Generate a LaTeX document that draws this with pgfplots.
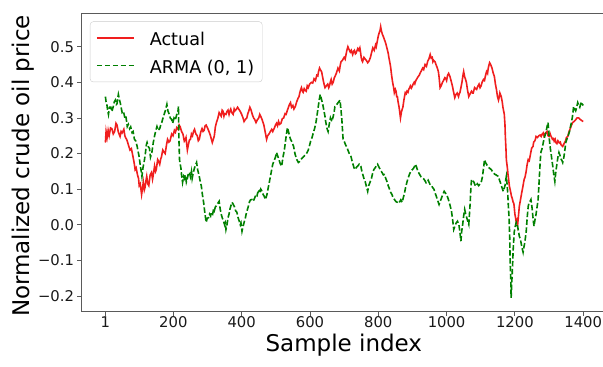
\documentclass[border=0pt]{standalone}
\usepackage{fontspec}
\setmainfont{DejaVu Sans}
\usepackage{pgfplots}
\pgfplotsset{compat=1.18}
\definecolor{mplred}{RGB}{240,30,30}
\definecolor{mplgreen}{RGB}{0,128,0}
\definecolor{spine}{RGB}{90,90,90}
\newcommand{\lgstrut}{\rule{0pt}{19.3pt}}
\begin{document}
\begin{tikzpicture}
\begin{axis}[
 scale only axis, width=521.5pt, height=298.7pt,
 xmin=-69, xmax=1458, ymin=-0.244, ymax=0.5947,
 axis x line*=bottom, axis y line*=left,
 axis line style={-, spine, line width=0.8pt},
 clip mode=individual,
 xtick={1,200,400,600,800,1000,1200,1400},
 xticklabels={1,200,400,600,800,1000,1200,1400},
 ytick={-0.2,-0.1,0,0.1,0.2,0.3,0.4,0.5},
 yticklabels={−0.2,−0.1,0.0,0.1,0.2,0.3,0.4,0.5},
 tick align=outside, major tick length=4pt, minor tick num=0,
 tick style={spine, line width=0.8pt},
 ticklabel style={font=\fontsize{14.8}{17}\selectfont, text=black!90},
 xticklabel style={yshift=2.5pt},
 xlabel={Sample index}, ylabel={Normalized crude oil price},
 label style={font=\fontsize{23}{27}\selectfont},
 xlabel style={at={(axis description cs:0.503,0)}, anchor=base, yshift=-40pt},
 ylabel style={at={(axis description cs:-0.112,0.488)}, anchor=center},
 legend cell align=left,
 legend style={at={(axis description cs:0,1)}, anchor=north west, xshift=8.5pt, yshift=-8.5pt,
   draw=black!20, rounded corners=3pt, fill=white, fill opacity=0.8, text opacity=1,
   font=\fontsize{17.6}{21}\selectfont, inner xsep=6pt, inner ysep=2.7pt, row sep=0pt, column sep=13pt,
   nodes={inner sep=2pt, text depth=4.1pt}},
 legend image code/.code={\draw[#1] (0pt,0pt) -- (37pt,0pt);},
]
\addplot[mplred, line width=1.6pt] coordinates {
(1,0.231)(3,0.262)(6,0.245)(9,0.265)(12,0.25)(16,0.272)(20,0.27)(24,0.255)(28,0.262)(32,0.285)(35,0.28)(39,0.26)(44,0.248)(47,0.262)(50,0.258)(55,0.268)(58,0.25)(60,0.245)(63,0.24)(65,0.235)(69,0.222)(73,0.21)(77,0.214)(80,0.2)(83,0.185)(85,0.175)(88,0.155)(91,0.16)(95,0.14)(98,0.13)(100,0.11)(103,0.115)(107,0.085)(110,0.105)(112,0.12)(115,0.098)(117,0.105)(120,0.125)(122,0.136)(125,0.115)(128,0.11)(132,0.14)(136,0.147)(139,0.128)(142,0.145)(145,0.165)(148,0.15)(150,0.155)(154,0.183)(157,0.178)(160,0.17)(163,0.185)(165,0.19)(169,0.21)(172,0.205)(176,0.2)(180,0.225)(183,0.24)(187,0.232)(190,0.235)(195,0.255)(199,0.25)(203,0.265)(206,0.26)(210,0.273)(214,0.268)(217,0.28)(220,0.275)(224,0.262)(228,0.255)(232,0.235)(235,0.24)(237,0.245)(241,0.21)(244,0.225)(247,0.238)(250,0.24)(253,0.255)(256,0.25)(259,0.262)(262,0.268)(266,0.255)(270,0.25)(273,0.236)(276,0.24)(280,0.26)(284,0.27)(287,0.262)(290,0.265)(293,0.278)(296,0.28)(300,0.272)(305,0.26)(308,0.252)(310,0.245)(314,0.231)(317,0.24)(320,0.25)(323,0.275)(327,0.29)(330,0.298)(334,0.315)(337,0.31)(340,0.305)(343,0.322)(345,0.32)(348,0.305)(350,0.312)(354,0.31)(357,0.318)(360,0.322)(363,0.31)(365,0.318)(368,0.325)(371,0.315)(375,0.31)(378,0.325)(380,0.32)(385,0.325)(388,0.33)(392,0.324)(396,0.318)(400,0.31)(404,0.3)(407,0.29)(411,0.296)(415,0.3)(418,0.312)(421,0.32)(424,0.33)(427,0.324)(431,0.31)(435,0.3)(438,0.296)(442,0.287)(446,0.295)(450,0.3)(453,0.31)(456,0.304)(460,0.295)(465,0.28)(469,0.26)(473,0.24)(476,0.25)(480,0.255)(484,0.262)(488,0.268)(491,0.262)(495,0.27)(499,0.28)(502,0.285)(505,0.278)(508,0.29)(511,0.282)(515,0.285)(519,0.298)(523,0.3)(527,0.312)(530,0.31)(534,0.322)(537,0.33)(540,0.338)(543,0.343)(546,0.33)(550,0.335)(553,0.325)(557,0.332)(561,0.345)(565,0.355)(568,0.36)(570,0.37)(573,0.38)(575,0.385)(578,0.375)(580,0.372)(583,0.382)(585,0.378)(589,0.375)(592,0.39)(595,0.385)(599,0.395)(604,0.4)(608,0.398)(612,0.41)(616,0.405)(620,0.42)(623,0.418)(625,0.43)(628,0.44)(630,0.436)(634,0.43)(637,0.415)(640,0.4)(644,0.385)(648,0.39)(652,0.395)(655,0.385)(657,0.39)(660,0.402)(662,0.408)(665,0.395)(668,0.4)(671,0.412)(673,0.416)(677,0.425)(682,0.44)(686,0.432)(689,0.45)(691,0.458)(695,0.462)(700,0.47)(703,0.465)(705,0.475)(708,0.49)(711,0.5)(714,0.493)(718,0.485)(721,0.49)(725,0.478)(728,0.488)(730,0.49)(733,0.48)(735,0.482)(738,0.49)(740,0.495)(743,0.49)(746,0.497)(748,0.485)(750,0.47)(752,0.462)(754,0.458)(758,0.47)(762,0.465)(765,0.462)(769,0.455)(773,0.46)(777,0.47)(780,0.482)(784,0.497)(788,0.49)(792,0.505)(794,0.5)(796,0.51)(798,0.52)(800,0.53)(803,0.54)(805,0.545)(807,0.556)(809,0.545)(812,0.535)(815,0.528)(818,0.52)(821,0.512)(823,0.505)(827,0.49)(829,0.482)(831,0.47)(834,0.455)(836,0.444)(839,0.42)(842,0.4)(845,0.385)(847,0.371)(850,0.38)(852,0.375)(854,0.36)(856,0.36)(858,0.345)(861,0.33)(863,0.315)(865,0.3)(868,0.318)(872,0.33)(875,0.35)(879,0.371)(882,0.368)(884,0.375)(887,0.372)(889,0.38)(892,0.385)(894,0.39)(897,0.384)(899,0.388)(902,0.395)(905,0.4)(907,0.396)(910,0.405)(913,0.41)(916,0.415)(920,0.42)(923,0.427)(926,0.432)(930,0.44)(933,0.436)(937,0.45)(941,0.445)(945,0.46)(948,0.465)(952,0.478)(955,0.468)(958,0.47)(960,0.458)(962,0.462)(966,0.458)(969,0.45)(973,0.44)(976,0.43)(978,0.415)(980,0.395)(981,0.385)(984,0.39)(988,0.4)(991,0.405)(995,0.413)(998,0.41)(1000,0.405)(1003,0.42)(1006,0.425)(1010,0.416)(1013,0.405)(1017,0.39)(1020,0.375)(1024,0.357)(1027,0.365)(1031,0.37)(1033,0.365)(1035,0.36)(1037,0.368)(1039,0.371)(1042,0.385)(1045,0.4)(1048,0.42)(1050,0.43)(1053,0.415)(1055,0.41)(1058,0.4)(1061,0.38)(1065,0.36)(1069,0.368)(1073,0.375)(1076,0.37)(1078,0.37)(1080,0.378)(1082,0.385)(1085,0.382)(1088,0.38)(1091,0.388)(1095,0.395)(1098,0.385)(1101,0.39)(1104,0.4)(1108,0.408)(1111,0.405)(1113,0.415)(1117,0.43)(1120,0.425)(1122,0.44)(1124,0.448)(1126,0.455)(1129,0.45)(1133,0.44)(1136,0.428)(1140,0.416)(1143,0.395)(1146,0.38)(1149,0.36)(1152,0.35)(1154,0.358)(1156,0.37)(1158,0.365)(1160,0.36)(1163,0.345)(1165,0.33)(1167,0.32)(1169,0.31)(1171,0.28)(1172,0.25)(1174,0.21)(1175,0.183)(1178,0.16)(1180,0.14)(1182,0.125)(1184,0.108)(1187,0.095)(1190,0.08)(1192,0.075)(1195,0.063)(1197,0.06)(1200,0.03)(1202,0.02)(1204,0.007)(1206,0.012)(1208,0.0)(1210,0.02)(1213,0.052)(1216,0.068)(1220,0.09)(1223,0.105)(1227,0.127)(1230,0.135)(1233,0.15)(1236,0.17)(1239,0.183)(1242,0.18)(1246,0.2)(1249,0.215)(1253,0.22)(1255,0.232)(1258,0.235)(1260,0.24)(1262,0.248)(1266,0.245)(1270,0.25)(1274,0.252)(1277,0.248)(1280,0.255)(1283,0.258)(1285,0.25)(1288,0.255)(1291,0.259)(1294,0.262)(1297,0.25)(1300,0.248)(1303,0.256)(1305,0.25)(1308,0.245)(1310,0.24)(1313,0.242)(1315,0.235)(1318,0.24)(1320,0.231)(1323,0.228)(1326,0.236)(1330,0.23)(1333,0.232)(1335,0.225)(1338,0.222)(1340,0.22)(1344,0.228)(1348,0.235)(1351,0.245)(1355,0.248)(1358,0.26)(1362,0.27)(1365,0.278)(1369,0.287)(1373,0.29)(1378,0.295)(1382,0.3)(1387,0.3)(1391,0.296)(1395,0.293)(1400,0.29)
};
\addlegendentry{\lgstrut Actual}
\addplot[mplgreen, line width=1.6pt, dash pattern=on 5.5pt off 2.4pt] coordinates {
(1,0.36)(3,0.345)(5,0.34)(7,0.325)(10,0.31)(13,0.33)(17,0.33)(20,0.318)(24,0.332)(27,0.345)(30,0.35)(33,0.338)(35,0.34)(37,0.355)(39,0.366)(42,0.352)(45,0.34)(48,0.325)(50,0.315)(54,0.318)(58,0.3)(61,0.305)(65,0.276)(68,0.282)(72,0.27)(75,0.275)(79,0.259)(82,0.262)(86,0.24)(90,0.235)(94,0.22)(97,0.205)(100,0.19)(102,0.175)(104,0.16)(106,0.15)(108,0.136)(111,0.16)(115,0.18)(118,0.2)(121,0.225)(123,0.231)(126,0.22)(130,0.215)(133,0.19)(137,0.203)(141,0.23)(145,0.25)(148,0.262)(152,0.276)(156,0.265)(160,0.27)(163,0.28)(166,0.287)(169,0.298)(173,0.31)(177,0.322)(181,0.338)(184,0.32)(188,0.31)(191,0.3)(195,0.296)(198,0.285)(202,0.3)(206,0.295)(210,0.31)(213,0.315)(215,0.332)(216,0.25)(218,0.183)(220,0.17)(222,0.16)(224,0.14)(227,0.119)(230,0.135)(232,0.13)(235,0.14)(238,0.12)(241,0.13)(244,0.145)(247,0.147)(250,0.135)(253,0.15)(255,0.13)(258,0.145)(262,0.16)(265,0.168)(268,0.175)(271,0.155)(275,0.14)(278,0.125)(282,0.108)(285,0.085)(289,0.06)(292,0.035)(296,0.007)(299,0.018)(303,0.02)(306,0.03)(309,0.025)(311,0.035)(315,0.03)(318,0.045)(320,0.04)(323,0.05)(327,0.055)(330,0.06)(334,0.066)(337,0.045)(340,0.03)(343,0.02)(347,0.01)(350,0.0)(352,0.005)(354,-0.013)(357,0.0)(360,0.02)(363,0.03)(366,0.045)(369,0.055)(372,0.063)(375,0.058)(379,0.05)(382,0.04)(386,0.035)(389,0.022)(393,0.01)(396,0.0)(398,0.005)(401,-0.018)(404,-0.005)(408,0.01)(411,0.02)(413,0.03)(416,0.04)(419,0.05)(423,0.065)(426,0.07)(430,0.071)(434,0.066)(438,0.075)(442,0.085)(445,0.082)(447,0.09)(451,0.095)(453,0.09)(456,0.1)(459,0.095)(463,0.085)(466,0.08)(470,0.071)(474,0.085)(479,0.11)(483,0.13)(488,0.155)(491,0.17)(495,0.18)(499,0.19)(502,0.203)(506,0.192)(510,0.18)(513,0.172)(517,0.164)(521,0.19)(525,0.21)(529,0.24)(532,0.26)(534,0.273)(537,0.262)(540,0.25)(543,0.24)(546,0.235)(549,0.228)(552,0.22)(556,0.2)(559,0.19)(562,0.182)(566,0.175)(570,0.178)(575,0.185)(580,0.19)(585,0.195)(590,0.2)(595,0.21)(598,0.22)(602,0.235)(606,0.245)(610,0.259)(614,0.272)(618,0.29)(621,0.31)(624,0.33)(627,0.35)(630,0.366)(633,0.355)(637,0.34)(640,0.325)(644,0.304)(646,0.29)(648,0.28)(650,0.27)(653,0.262)(656,0.28)(660,0.3)(664,0.29)(668,0.304)(671,0.318)(673,0.332)(677,0.335)(680,0.34)(684,0.345)(688,0.35)(690,0.33)(693,0.3)(695,0.27)(697,0.24)(700,0.235)(704,0.225)(708,0.218)(711,0.21)(715,0.2)(720,0.192)(723,0.18)(726,0.17)(729,0.16)(731,0.155)(735,0.16)(740,0.165)(744,0.17)(749,0.164)(752,0.15)(755,0.14)(758,0.13)(762,0.12)(766,0.105)(769,0.094)(772,0.11)(776,0.12)(780,0.13)(784,0.147)(787,0.155)(791,0.16)(794,0.165)(798,0.17)(802,0.162)(806,0.155)(809,0.15)(812,0.145)(815,0.14)(818,0.141)(822,0.13)(826,0.12)(829,0.11)(833,0.1)(836,0.092)(840,0.085)(844,0.075)(848,0.07)(852,0.065)(856,0.063)(859,0.06)(863,0.065)(866,0.07)(870,0.063)(873,0.075)(877,0.09)(880,0.105)(884,0.12)(887,0.13)(891,0.141)(895,0.15)(900,0.155)(904,0.16)(909,0.17)(912,0.162)(916,0.15)(919,0.145)(922,0.14)(925,0.135)(928,0.133)(932,0.13)(936,0.125)(940,0.118)(943,0.12)(946,0.125)(949,0.119)(952,0.112)(956,0.11)(959,0.105)(963,0.1)(966,0.09)(970,0.08)(974,0.068)(978,0.057)(981,0.065)(985,0.075)(989,0.085)(993,0.094)(996,0.09)(1000,0.085)(1004,0.075)(1007,0.066)(1010,0.055)(1014,0.04)(1017,0.02)(1021,-0.013)(1024,-0.005)(1028,0.005)(1032,0.01)(1036,0.001)(1039,-0.02)(1042,-0.046)(1044,-0.02)(1047,0.0)(1050,0.025)(1053,0.043)(1056,0.03)(1059,0.02)(1062,0.01)(1065,0.001)(1067,0.03)(1069,0.06)(1071,0.1)(1073,0.127)(1076,0.125)(1080,0.12)(1083,0.112)(1087,0.108)(1090,0.115)(1094,0.11)(1098,0.115)(1102,0.122)(1105,0.135)(1107,0.15)(1109,0.165)(1111,0.183)(1114,0.175)(1117,0.17)(1120,0.165)(1124,0.16)(1127,0.158)(1131,0.155)(1134,0.15)(1138,0.145)(1141,0.142)(1145,0.14)(1148,0.138)(1152,0.136)(1155,0.125)(1159,0.115)(1162,0.105)(1166,0.094)(1168,0.1)(1171,0.11)(1173,0.125)(1175,0.136)(1177,0.115)(1179,0.09)(1181,0.05)(1183,0.02)(1185,-0.04)(1186,-0.1)(1188,-0.16)(1189,-0.205)(1191,-0.16)(1193,-0.12)(1195,-0.07)(1198,-0.021)(1201,-0.005)(1204,0.007)(1207,0.0)(1209,-0.01)(1211,-0.02)(1213,-0.032)(1216,-0.04)(1218,-0.05)(1221,-0.065)(1224,-0.077)(1226,-0.065)(1229,-0.05)(1231,-0.035)(1233,-0.021)(1236,0.02)(1239,0.052)(1241,0.06)(1244,0.065)(1247,0.071)(1250,0.05)(1252,0.03)(1254,0.01)(1256,-0.004)(1259,0.015)(1262,0.03)(1265,0.05)(1268,0.071)(1270,0.105)(1272,0.14)(1274,0.175)(1276,0.203)(1279,0.212)(1281,0.22)(1283,0.23)(1285,0.24)(1288,0.25)(1291,0.26)(1294,0.275)(1297,0.287)(1299,0.265)(1300,0.248)(1303,0.22)(1306,0.2)(1308,0.185)(1311,0.164)(1314,0.14)(1317,0.122)(1320,0.15)(1323,0.17)(1326,0.19)(1329,0.203)(1332,0.195)(1335,0.185)(1338,0.18)(1340,0.175)(1343,0.188)(1345,0.2)(1347,0.215)(1349,0.231)(1352,0.24)(1356,0.25)(1360,0.262)(1363,0.276)(1366,0.29)(1368,0.3)(1370,0.315)(1372,0.332)(1375,0.325)(1378,0.32)(1381,0.33)(1384,0.343)(1387,0.335)(1390,0.33)(1393,0.34)(1395,0.345)(1398,0.338)(1400,0.335)
};
\addlegendentry{\lgstrut ARMA (0, 1)}
\draw[spine, line width=0.8pt] (rel axis cs:0,1) -- (rel axis cs:1,1);
\end{axis}
\pgfresetboundingbox
\path (current axis.south west) ++(-81.5pt,-55.3pt) rectangle ([yshift=13pt]current axis.north east);
\end{tikzpicture}
\end{document}
